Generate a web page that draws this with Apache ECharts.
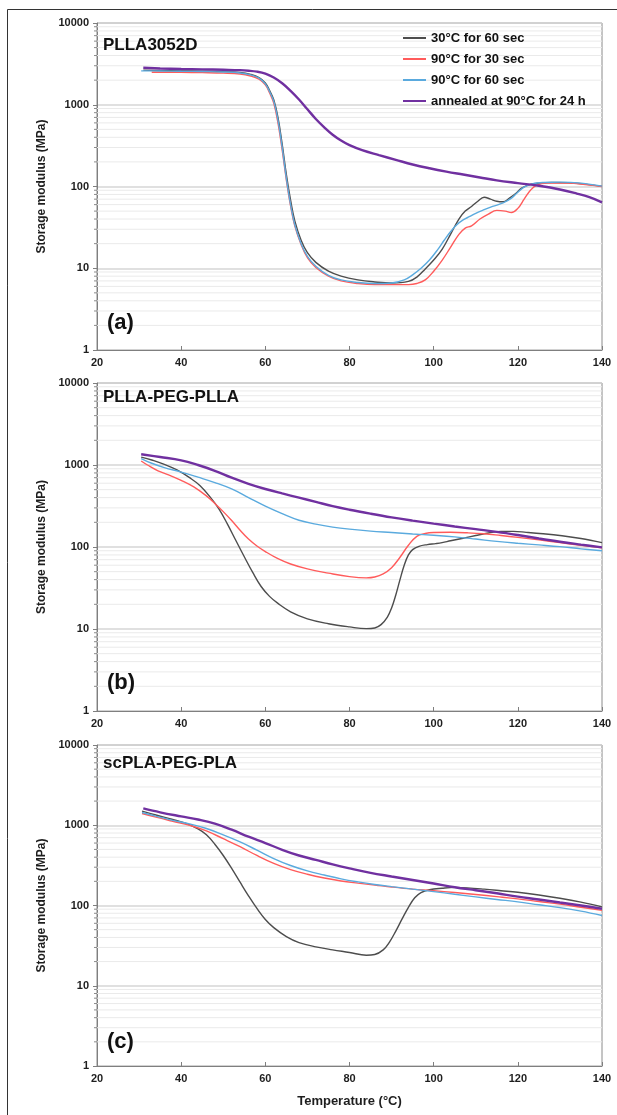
<!DOCTYPE html>
<html>
<head>
<meta charset="utf-8">
<script src="https://cdn.jsdelivr.net/npm/echarts@6.0.0/dist/echarts.min.js"></script>
<style>
  html, body { margin: 0; padding: 0; background: #fff; }
  #chart { width: 617px; height: 1115px; }
</style>
</head>
<body>
<div id="chart"></div>
<script>
// Storage modulus (MPa) vs temperature (°C) for three materials and four thermal histories.
const seriesNames = ['30°C for 60 sec', '90°C for 30 sec', '90°C for 60 sec', 'annealed at 90°C for 24 h'];
const panelTitles = ['PLLA3052D', 'PLLA-PEG-PLLA', 'scPLA-PEG-PLA'];
const panelTags = ['(a)', '(b)', '(c)'];
const xTicks = { min: 20, max: 140, step: 20 };
const yTicks = { min: 1, max: 10000 };

// (a) PLLA3052D — [temperature, modulus]
const a_30_60 = [[31,2650],[35,2620],[40,2600],[45,2580],[50,2550],[54,2480],[56.5,2350],[58.5,2150],[60,1850],[61,1500],[62,1150],[63,700],[64,330],[65,140],[66,68],[67,38],[68.5,22],[70,15.5],[72,11.8],[75,9.2],[78,8.0],[82,7.2],[86,6.8],[90,6.6],[94,6.9],[96,7.8],[98,9.8],[100,12.6],[102,17],[104,26],[106,40],[107.5,50],[109,57],[110.5,66],[112,74],[113.5,70],[115,66],[116.5,65],[118,72],[119.5,82],[121,96],[123,106],[125,110],[128,112],[132,111],[136,107],[140,100]];
const a_90_30 = [[33,2500],[35,2500],[40,2490],[45,2470],[50,2440],[54,2380],[56.5,2250],[58.5,2050],[60,1750],[61,1400],[62,1050],[63,600],[64,280],[65,120],[66,58],[67,33],[68.5,19.5],[70,13.5],[72,10.2],[75,8.0],[78,7.0],[82,6.5],[86,6.3],[90,6.3],[94,6.3],[96,6.5],[98,7.2],[100,9.2],[102,12.5],[104,18],[106,26],[107.5,31],[109,33],[111,40],[113,46],[115,51],[117,50],[118.5,48],[120,54],[121.5,70],[123,90],[124.5,104],[127,110],[132,110],[136,106],[140,100]];
const a_90_60 = [[30.5,2600],[35,2590],[40,2570],[45,2550],[50,2520],[54,2450],[56.5,2320],[58.5,2120],[60,1800],[61,1450],[62,1100],[63,650],[64,300],[65,125],[66,60],[67,34],[68.5,20],[70,14],[72,10.6],[75,8.2],[78,7.2],[82,6.7],[86,6.5],[90,6.6],[93,7.2],[95,8.3],[97,10],[99,12.6],[101,17],[102.5,22],[104,28],[105.5,34],[107,39],[108.6,43],[110,47],[112,52],[114,57],[116.5,63],[118.5,72],[120,85],[121.5,98],[123.5,108],[126,112],[130,113],[135,110],[140,101]];
const a_ann = [[31,2830],[35,2780],[40,2740],[45,2710],[50,2680],[54,2650],[56,2610],[58,2540],[60,2400],[62,2150],[64,1830],[66,1480],[68,1160],[70,880],[72,670],[74,530],[76,430],[78,365],[80,320],[83,278],[87,242],[91,212],[95,186],[99,167],[103,152],[107,140],[111,129],[115,119],[120,110],[125,102],[130,92],[134,82],[137,74],[140,64]];

// (b) PLLA-PEG-PLLA
const b_30_60 = [[30.5,1250],[33,1150],[36,1020],[39,870],[42,700],[44.5,560],[47,400],[49,290],[51,190],[53,120],[55,76],[57,49],[59,33],[61,25],[63,20.5],[66,16.2],[70,13.3],[75,11.6],[80,10.6],[84,10.1],[86,10.3],[87.5,11.3],[89,14],[90,18],[91,26],[92,40],[93,60],[94,80],[95,93],[96.5,102],[98.5,107],[100.5,110],[102,113],[104,119],[107,128],[110,138],[113,148],[116,155],[119,155],[122,151],[126,145],[130,138],[135,127],[140,113]];
const b_90_30 = [[30.5,1120],[32,1000],[34.5,850],[37,760],[40,650],[43,540],[46,420],[48,340],[50,270],[52,210],[54,160],[56,125],[58,103],[60,88],[63,72],[66,62],[70,54],[75,48],[80,43.5],[84,42],[86,43],[88,47],[90,56],[92,75],[94,105],[96,135],[98,146],[100,150],[104,151],[108,149],[112,145],[116,138],[120,131],[125,122],[130,113],[135,105],[140,98]];
const b_90_60 = [[30.5,1200],[33,1050],[36,930],[40,820],[44,710],[48,610],[52,510],[56,400],[60,315],[64,255],[68,212],[72,190],[76,175],[80,165],[85,156],[90,150],[95,144],[100,139],[105,133],[110,125],[115,117],[120,111],[125,106],[130,101],[135,95],[140,90]];
const b_ann = [[30.5,1350],[35,1250],[40,1140],[44,1000],[48,850],[52,700],[56,590],[60,510],[64,450],[68,400],[72,355],[76,315],[80,285],[85,255],[90,230],[95,210],[100,193],[105,178],[110,165],[115,153],[120,140],[125,127],[130,116],[135,107],[140,99]];

// (c) scPLA-PEG-PLA
const c_30_60 = [[30.7,1500],[34,1340],[38,1180],[41,1060],[44,900],[46,760],[48,580],[50,420],[52,290],[54,195],[56,132],[58,92],[60,67],[62,53],[65,41],[68,34.5],[72,30.5],[76,28],[80,26],[84,24],[86,24.5],[88,28],[89.5,35],[91,48],[92.5,68],[94,95],[95.5,125],[97,145],[99,157],[102,164],[105,168],[108,166],[112,160],[116,153],[120,146],[125,135],[130,123],[135,110],[140,96]];
const c_90_30 = [[30.7,1400],[34,1260],[38,1120],[42,1000],[46,850],[50,680],[54,540],[58,420],[62,335],[66,280],[70,245],[74,220],[78,202],[82,190],[86,180],[90,170],[95,160],[100,153],[105,145],[110,137],[115,129],[120,121],[125,112],[130,104],[135,95],[140,87]];
const c_90_60 = [[30.7,1440],[34,1300],[38,1150],[42,1040],[46,910],[50,760],[54,620],[58,490],[62,385],[66,315],[70,270],[74,240],[78,215],[82,197],[86,183],[90,172],[95,160],[100,149],[105,138],[110,128],[115,119],[120,111],[125,102],[130,94],[135,85],[140,75]];
const c_ann = [[31,1620],[35,1450],[40,1290],[44,1180],[48,1050],[52,880],[56,720],[60,600],[64,495],[68,420],[72,370],[76,325],[80,290],[85,255],[90,230],[95,208],[100,188],[105,169],[110,155],[115,142],[120,129],[125,119],[130,109],[135,100],[140,91]];

const panels = [
  [a_30_60, a_90_30, a_90_60, a_ann],
  [b_30_60, b_90_30, b_90_60, b_ann],
  [c_30_60, c_90_30, c_90_60, c_ann]
];

const colors = ['#4d4d4d', '#ff5b5b', '#5aaade', '#7030a0'];
const widths = [1.4, 1.4, 1.4, 2.4];
const FONT = '"Liberation Sans", Arial, sans-serif';

// Minor log positions (2..9 in each decade)
const minorVals = [];
for (let d = 1; d < yTicks.max; d *= 10) {
  for (let k = 2; k <= 9; k++) minorVals.push(k * d);
}

const gridBoxes = [
  { top: 23, height: 327, titleDy: 14, tagDy: 38 },
  { top: 383, height: 328, titleDy: 6, tagDy: 39 },
  { top: 745, height: 321, titleDy: 10, tagDy: 35 }
];

const grids = [], xAxes = [], yAxes = [], series = [], graphics = [];

gridBoxes.forEach((g, i) => {
  grids.push({ left: 97, right: 15, top: g.top, height: g.height, show: true, borderColor: '#8a8a8a', borderWidth: 1, backgroundColor: '#fff' });
  xAxes.push({
    type: 'value', gridIndex: i, min: xTicks.min, max: xTicks.max, interval: xTicks.step,
    axisLine: { lineStyle: { color: '#7f7f7f', width: 1 } },
    axisTick: { inside: true, length: 4, lineStyle: { color: '#7f7f7f' } },
    axisLabel: { fontFamily: FONT, fontWeight: 'bold', fontSize: 11, color: '#1e1e1e', margin: 7 },
    splitLine: { show: false },
    name: i === 2 ? 'Temperature (°C)' : '',
    nameLocation: 'middle', nameGap: 29,
    nameTextStyle: { fontFamily: FONT, fontWeight: 'bold', fontSize: 13, color: '#1e1e1e' }
  });
  yAxes.push({
    type: 'log', logBase: 10, gridIndex: i, min: yTicks.min, max: yTicks.max,
    axisLine: { show: true, lineStyle: { color: '#7f7f7f', width: 1 } },
    axisTick: { show: true, length: 4, lineStyle: { color: '#7f7f7f' } },
    axisLabel: { fontFamily: FONT, fontWeight: 'bold', fontSize: 11, color: '#1e1e1e', margin: 8,
                 formatter: v => String(Math.round(v)) },
    splitLine: { show: true, lineStyle: { color: '#d6d6d6', width: 1.5 } },
    name: 'Storage modulus (MPa)', nameLocation: 'middle', nameGap: 49,
    nameTextStyle: { fontFamily: FONT, fontWeight: 'bold', fontSize: 12, color: '#1e1e1e' }
  });

  // light minor grid lines and short minor ticks on the log axis
  series.push({
    type: 'custom', xAxisIndex: i, yAxisIndex: i, silent: true, z: 1,
    data: minorVals,
    renderItem: function (params, api) {
      const v = api.value(0);
      const p0 = api.coord([xTicks.min, v]);
      const p1 = api.coord([xTicks.max, v]);
      return {
        type: 'group',
        children: [
          { type: 'line', shape: { x1: p0[0], y1: p0[1], x2: p1[0], y2: p1[1] }, style: { stroke: '#eaeaea', lineWidth: 1 } },
          { type: 'line', shape: { x1: p0[0] - 3, y1: p0[1], x2: p0[0], y2: p0[1] }, style: { stroke: '#8a8a8a', lineWidth: 1 } }
        ]
      };
    },
    encode: { y: 0 }
  });

  panels[i].forEach((d, k) => {
    series.push({
      name: seriesNames[k], type: 'line', xAxisIndex: i, yAxisIndex: i,
      data: d, smooth: 0.4, showSymbol: false, symbol: 'none', z: 3 + k,
      lineStyle: { color: colors[k], width: widths[k] }, itemStyle: { color: colors[k] }
    });
  });

  graphics.push({
    type: 'text', left: 103, top: g.top + g.titleDy, z: 100,
    style: { text: panelTitles[i], font: 'bold 17px ' + FONT, fill: '#111' }
  });
  graphics.push({
    type: 'text', left: 107, top: g.top + g.height - g.tagDy, z: 100,
    style: { text: panelTags[i], font: 'bold 22px ' + FONT, fill: '#111' }
  });
});

// outer frame (left and top edges)
graphics.push({ type: 'line', z: 100, shape: { x1: 7.5, y1: 9.5, x2: 617, y2: 9.5 }, style: { stroke: '#333', lineWidth: 1 } });
graphics.push({ type: 'line', z: 100, shape: { x1: 7.5, y1: 9.5, x2: 7.5, y2: 1115 }, style: { stroke: '#333', lineWidth: 1 } });

const chart = echarts.init(document.getElementById('chart'), null, { renderer: 'canvas' });
chart.setOption({
  animation: false,
  backgroundColor: '#fff',
  color: colors,
  grid: grids,
  xAxis: xAxes,
  yAxis: yAxes,
  legend: {
    data: seriesNames, orient: 'vertical', left: 398, top: 25,
    icon: 'rect', itemWidth: 23, itemHeight: 2, itemGap: 5,
    textStyle: { fontFamily: FONT, fontWeight: 'bold', fontSize: 13, color: '#111', lineHeight: 16 }
  },
  graphic: graphics,
  series: series
});
</script>
</body>
</html>
